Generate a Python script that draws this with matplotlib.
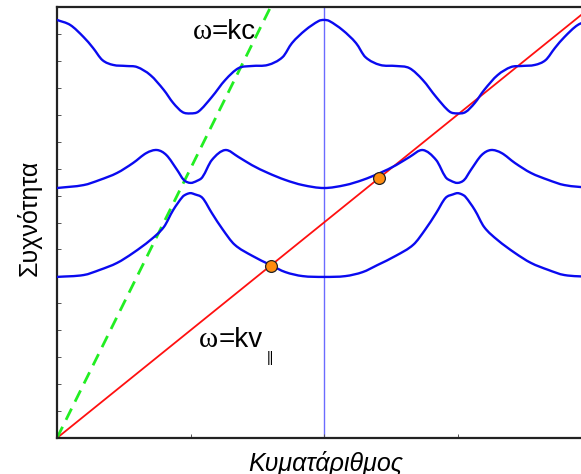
import matplotlib.pyplot as plt
from matplotlib.path import Path
from matplotlib.patches import PathPatch

# wave number k (axis runs -1 .. 1) and frequency of the three bands
k_up = [-1.0, -0.95, -0.90, -0.865, -0.83, -0.79, -0.74, -0.70, -0.65, -0.60, -0.565, -0.53, -0.50, -0.47,
        -0.42, -0.37, -0.32, -0.27, -0.21, -0.155, -0.12, -0.07, -0.02, 0.0,
        0.02, 0.07, 0.12, 0.155, 0.21, 0.27, 0.32, 0.37, 0.42, 0.47, 0.50, 0.53, 0.565, 0.60,
        0.65, 0.70, 0.74, 0.79, 0.83, 0.865, 0.90, 0.95, 1.0]
w_up = [15.52, 15.33, 14.88, 14.48, 14.03, 13.85, 13.81, 13.77, 13.47, 12.92, 12.44, 12.10, 12.05, 12.12,
        12.66, 13.29, 13.73, 13.81, 13.85, 14.14, 14.66, 15.14, 15.48, 15.52,
        15.48, 15.14, 14.66, 14.14, 13.85, 13.81, 13.73, 13.29, 12.66, 12.12, 12.05, 12.10, 12.44, 12.92,
        13.47, 13.77, 13.81, 13.85, 14.03, 14.48, 14.88, 15.33, 15.52]

k_mid = [-1.0, -0.90, -0.84, -0.775, -0.715, -0.665, -0.625, -0.59, -0.55, -0.525, -0.50, -0.475, -0.455,
         -0.42, -0.37, -0.32, -0.27, -0.21, -0.145, -0.08, 0.0,
         0.08, 0.145, 0.21, 0.27, 0.32, 0.37, 0.42, 0.455, 0.475, 0.50, 0.525, 0.55, 0.59, 0.625,
         0.665, 0.715, 0.775, 0.84, 0.90, 1.0]
w_mid = [9.28, 9.39, 9.58, 9.84, 10.21, 10.58, 10.69, 10.50, 9.95, 9.58, 9.47, 9.55, 9.69,
         10.32, 10.69, 10.43, 10.13, 9.84, 9.58, 9.39, 9.28,
         9.39, 9.58, 9.84, 10.13, 10.43, 10.69, 10.32, 9.69, 9.55, 9.47, 9.58, 9.95, 10.50, 10.69,
         10.58, 10.21, 9.84, 9.58, 9.39, 9.28]

k_low = [-1.0, -0.90, -0.84, -0.775, -0.715, -0.65, -0.60, -0.565, -0.53, -0.515, -0.50, -0.485, -0.455,
         -0.42, -0.38, -0.335, -0.27, -0.20, -0.145, -0.08, 0.0,
         0.08, 0.145, 0.20, 0.27, 0.335, 0.38, 0.42, 0.455, 0.485, 0.50, 0.515, 0.53, 0.565, 0.60,
         0.65, 0.715, 0.775, 0.84, 0.90, 1.0]
w_low = [5.98, 6.05, 6.24, 6.50, 6.87, 7.35, 7.83, 8.46, 8.95, 9.05, 9.09, 9.05, 8.91,
         8.35, 7.75, 7.18, 6.77, 6.42, 6.16, 6.01, 5.98,
         6.01, 6.16, 6.42, 6.77, 7.18, 7.75, 8.35, 8.91, 9.05, 9.09, 9.05, 8.95, 8.46, 7.83,
         7.35, 6.87, 6.50, 6.24, 6.05, 5.98]

# light line w = k c
k_light = [-1.0, -0.2]
w_light = [0.0, 16.0]
# beam line w = k v
k_beam = [-1.0, 1.0]
w_beam = [0.0, 16.0]
# resonance points
k_dot = [-0.2, 0.205]
w_dot = [6.4, 9.64]


def smooth_path(xs, ys):
    # bezier path through the points (hermite style, slopes from neighbours)
    n = len(xs)
    m = []
    for i in range(n):
        a = max(i - 1, 0)
        b = min(i + 1, n - 1)
        m.append((ys[b] - ys[a]) / (xs[b] - xs[a]))
    verts = [(xs[0], ys[0])]
    codes = [Path.MOVETO]
    for i in range(n - 1):
        h = xs[i + 1] - xs[i]
        verts += [(xs[i] + h / 3, ys[i] + m[i] * h / 3),
                  (xs[i + 1] - h / 3, ys[i + 1] - m[i + 1] * h / 3),
                  (xs[i + 1], ys[i + 1])]
        codes += [Path.CURVE4] * 3
    return Path(verts, codes)


fig = plt.figure(figsize=(5.81, 4.74), dpi=100)
ax = fig.add_axes([57 / 581, 36 / 474, 534 / 581, 431 / 474])

ax.axvline(0.0, color='#6b6bff', lw=1.0, zorder=1)
ax.plot(k_beam, w_beam, color='#ff1010', lw=1.3, zorder=2)
ax.plot(k_light, w_light, color='#22ee22', lw=2.0, ls=(0, (4.5, 2.8)), zorder=2)
for kk, ww in [(k_up, w_up), (k_mid, w_mid), (k_low, w_low)]:
    ax.add_patch(PathPatch(smooth_path(kk, ww), fill=False, edgecolor='#0a0af0', lw=1.7,
                           zorder=3, capstyle='round', joinstyle='round'))
ax.plot(k_dot, w_dot, 'o', ms=8.5, mfc='#ff8c10', mec='#222222', mew=0.9, zorder=4)

ax.set_xlim(-1, 1)
ax.set_ylim(0, 16)
ax.set_xticks([-0.5, 0, 0.5])
ax.set_yticks(range(0, 17))
ax.tick_params(direction='in', length=3, width=0.7, color='#555555',
               labelbottom=False, labelleft=False)
for s in ax.spines.values():
    s.set_linewidth(1.6)
    s.set_color('#222222')
ax.spines['right'].set_visible(False)

ax.text(-0.42, 14.81, 'ω', family='Liberation Serif', fontsize=21, ha='right', va='baseline')
ax.text(-0.42, 14.81, '=kc', family='Liberation Sans', fontsize=20, ha='left', va='baseline')
ax.text(-0.396, 3.38, 'ω', family='Liberation Serif', fontsize=21, ha='right', va='baseline')
ax.text(-0.396, 3.38, '=kv', family='Liberation Sans', fontsize=20, ha='left', va='baseline')
ax.text(-0.213, 2.83, '||', family='Liberation Sans', fontsize=10, ha='left', va='baseline')

fig.text(29.5 / 581, 1 - 218 / 474, 'Συχνότητα', family='Liberation Sans', fontsize=18,
         rotation=90, ha='center', va='center')
fig.text(326 / 581, 1 - 451 / 474, 'Κυματάριθμος', family='Liberation Sans', fontsize=18,
         style='italic', ha='center', va='top')

fig.savefig('out.png', dpi=100)
